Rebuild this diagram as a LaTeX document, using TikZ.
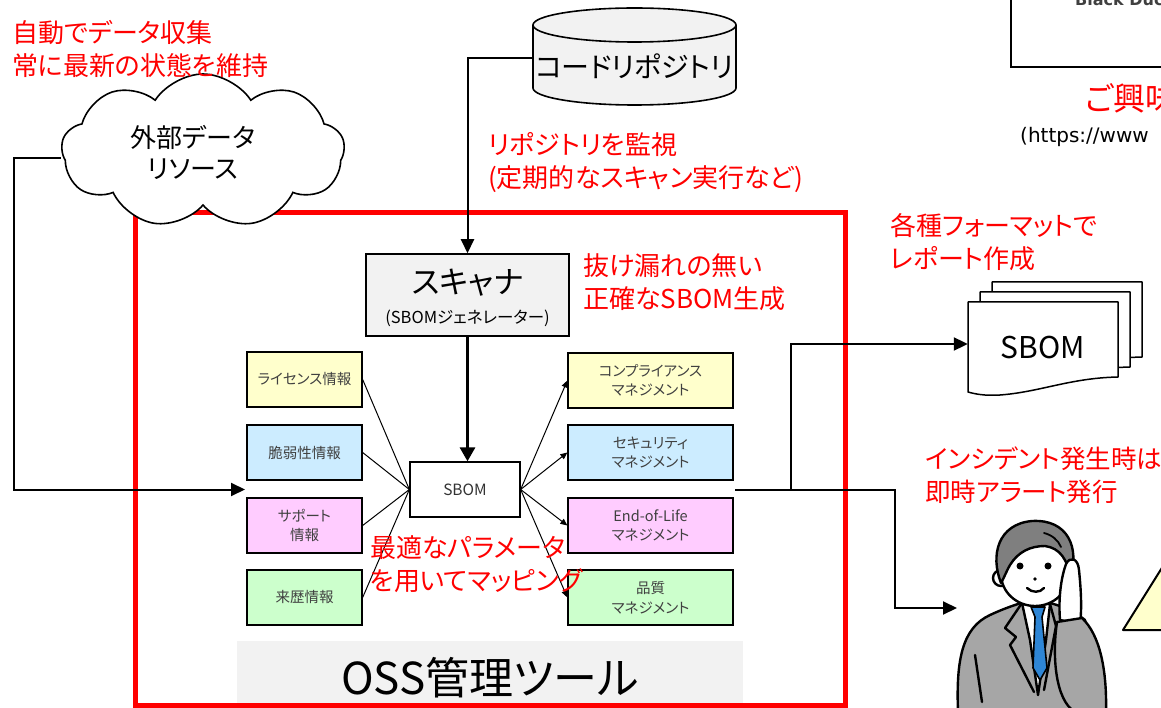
\documentclass[tikz,border=0pt]{standalone}
\usepackage{fontspec}
\setmainfont{Noto Sans CJK JP}[RawFeature=+palt]
\newfontfamily\urlfont{DejaVu Sans}
\usetikzlibrary{shapes.symbols,arrows.meta,calc}

\definecolor{boxyellow}{HTML}{FFFFCC}
\definecolor{boxblue}{HTML}{CCECFF}
\definecolor{boxpink}{HTML}{FFCCFF}
\definecolor{boxgreen}{HTML}{CCFFCC}
\definecolor{panelgray}{HTML}{F2F2F2}
\definecolor{suitgray}{HTML}{A6A6A6}
\definecolor{hairgray}{HTML}{7F7F7F}
\definecolor{tieblue}{HTML}{2E86D6}
\definecolor{alertred}{HTML}{FF0000}

\newcommand\jfs[2]{\fontsize{#1}{#2}\selectfont}

\begin{document}
\begin{tikzpicture}[x=1pt,y=-1pt,
  note/.style={text=alertred, font=\jfs{26}{33}, align=left, inner sep=0pt, anchor=north west},
  infobox/.style={draw=black, line width=1.3pt, minimum width=115pt, minimum height=55pt,
    inner sep=0pt, align=center, text=black!75, font=\jfs{14.5}{19.5}},
  mgmtbox/.style={infobox, minimum width=165pt},
  feed/.style={line width=1pt},
  fanout/.style={line width=1pt, -{Triangle[length=7pt,width=6pt]}},
  flow/.style={line width=2pt, -{Triangle[length=14pt,width=13pt]}},
  docsheet/.style={draw=black, line width=1.5pt, fill=white, line join=round},
]
\useasboundingbox (0,0) rectangle (1161,708);
\clip (0,0) rectangle (1161,708);

% ---------- product box, top right ----------
\draw[line width=2pt, fill=white] (1011,-20) |- (1180,67);
\node[anchor=base west, inner sep=0pt, text=black!75, font=\urlfont\bfseries\fontsize{16}{18}\selectfont] (brand) at (1075,6) {Black Duck};
\node[anchor=north west, inner sep=0pt, text=alertred, font=\jfs{32}{36}] (invite) at (1085,83) {ご興味};
\node[anchor=base west, inner sep=0pt, font=\urlfont\fontsize{20}{24}\selectfont] (url) at (1020,143) {(https://www};

% ---------- tool frame ----------
\node[fill=panelgray, minimum width=506pt, minimum height=66pt, inner sep=0pt] (tool) at (490,674) {};
\node[font=\jfs{44}{50}, inner sep=0pt] (toolname) at (490,678) {OSS管理ツール};
\draw[alertred, line width=5pt] (135.5,212.5) rectangle (845.5,705);

% ---------- external data cloud ----------
\node[cloud, cloud puffs=9, cloud puff arc=115, draw=black, line width=1.6pt, fill=white,
      minimum width=283pt, minimum height=154pt, inner sep=0pt] (ext) at (203,151) {};
\node[align=center, font=\jfs{26}{31}, inner sep=0pt] (exttext) at (193,152) {外部データ\\リソース};

% ---------- code repository cylinder ----------
\filldraw[fill=panelgray, draw=black, line width=1.6pt]
  (533,25) -- (533,88) arc[start angle=180, end angle=0, x radius=101.5, y radius=17]
  -- (736,25) arc[start angle=0, end angle=-180, x radius=101.5, y radius=17] -- cycle;
\draw[line width=1.6pt] (533,25) arc[start angle=180, end angle=0, x radius=101.5, y radius=17];
\node[minimum width=203pt, minimum height=60pt, inner sep=0pt, font=\jfs{28}{32}] (repo) at (634.5,66) {コードリポジトリ};

% ---------- scanner ----------
\node[draw=black, line width=1.5pt, fill=panelgray, minimum width=203pt, minimum height=82pt, inner sep=0pt] (scanner) at (467.5,295) {};
\node[font=\jfs{31}{36}, inner sep=0pt] (scantitle) at (467.5,283) {スキャナ};
\node[font=\jfs{16.5}{20}, inner sep=0pt] (scansub) at (467.5,318) {(SBOMジェネレーター)};

% ---------- SBOM and its inputs / outputs ----------
\node[draw=black, line width=1.3pt, fill=white, minimum width=110pt, minimum height=55pt, inner sep=0pt,
      font=\jfs{15.5}{19}, text=black!80] (sbom) at (465,489.5) {SBOM};

\node[infobox, fill=boxyellow] (lic)  at (304.5,379.5) {ライセンス情報};
\node[infobox, fill=boxblue]   (vul)  at (304.5,452.5) {脆弱性情報};
\node[infobox, fill=boxpink]   (sup)  at (304.5,525.5) {サポート\\情報};
\node[infobox, fill=boxgreen]  (prov) at (304.5,597.5) {来歴情報};

\node[mgmtbox, fill=boxyellow] (comp) at (650.5,380.5) {コンプライアンス\\マネジメント};
\node[mgmtbox, fill=boxblue]   (sec)  at (650.5,452.5) {セキュリティ\\マネジメント};
\node[mgmtbox, fill=boxpink]   (eol)  at (650.5,525.5) {End-of-Life\\マネジメント};
\node[mgmtbox, fill=boxgreen]  (qual) at (650.5,597.5) {品質\\マネジメント};

\foreach \src in {lic,vul,sup,prov} \draw[feed] (\src.east) -- (sbom.west);
\foreach \dst in {comp,sec,eol,qual} \draw[fanout] (sbom.east) -- (\dst.west);

\draw[line width=3pt, -{Triangle[length=14pt,width=15pt]}] (scanner.south) -- (scanner.south |- sbom.north);

% ---------- SBOM report documents ----------
\foreach \s in {24,12,0}{
  \filldraw[docsheet, shift={(\s,-\s*10/12)}]
    (968,302) -- (1118,302) -- (1118,377)
    .. controls (1070,378) and (1040,392) .. (1000,395)
    .. controls (985,396) and (975,394) .. (968,392) -- cycle;
}
\node[minimum width=150pt, minimum height=92pt, inner sep=0pt, font=\jfs{30}{34}] (doc) at (1043,348) {SBOM};

% ---------- alert recipient ----------
\filldraw[fill=boxyellow, draw=black, line width=2pt, line join=round] (1123,630) -- (1195,515) -- (1267,630) -- cycle;
\begin{scope}[line width=2.4pt, line join=round, line cap=round]
  % torso
  \filldraw[fill=suitgray] (958,712) .. controls (956,660) and (962,628) .. (990,615)
    .. controls (1005,608) and (1015,605) .. (1024,602) -- (1050,603)
    .. controls (1065,607) and (1075,612) .. (1085,620) -- (1095,712) -- cycle;
  % shirt
  \filldraw[fill=white] (1022,603) -- (1050,604) -- (1046,640) -- (1038,695) -- (1030,640) -- cycle;
  % tie
  \filldraw[fill=tieblue, line width=1.6pt] (1031,607) -- (1045,607) -- (1042,617) -- (1047,668)
    -- (1040,680) -- (1033,668) -- (1035,617) -- cycle;
  % lapels and folds
  \draw (1022,603) -- (1005,628) -- (1016,637) -- (1010,645) -- (1034,692);
  \draw (1050,604) -- (1056,626) -- (1044,690);
  \draw (975,655) -- (982,702);
  % head
  \filldraw[fill=white] (1001,578) circle[radius=8];
  \filldraw[fill=white] (1035,574) ellipse[x radius=34, y radius=32];
  \filldraw[fill=hairgray] (1001,583) .. controls (990,555) and (998,524) .. (1032,521)
    .. controls (1068,519) and (1080,548) .. (1070,578)
    .. controls (1068,560) and (1060,548) .. (1045,546)
    .. controls (1030,546) and (1018,552) .. (1010,565)
    .. controls (1006,572) and (1004,578) .. (1001,583) -- cycle;
  \draw[line width=1.8pt] (1044,533) .. controls (1052,535) and (1058,540) .. (1061,547);
  \fill (1020,566) circle[radius=3.5];
  \fill (1048,566) circle[radius=3.5];
  \fill (1035,579) circle[radius=1.8];
  \draw (1027,588) .. controls (1032,593) and (1040,593) .. (1044,588);
  % hand on the cheek, then the sleeve
  \filldraw[fill=white] (1060,620) .. controls (1058,595) and (1062,575) .. (1066,564)
    .. controls (1070,556) and (1078,558) .. (1079,570)
    .. controls (1081,590) and (1082,608) .. (1080,624) -- cycle;
  \filldraw[fill=suitgray] (1057,622) .. controls (1052,655) and (1055,700) .. (1075,712)
    -- (1106,712) .. controls (1107,670) and (1100,635) .. (1082,618) -- cycle;
\end{scope}
\coordinate (alert) at (957,608);

% ---------- connectors ----------
\draw[flow] ([yshift=-7pt]ext.west) -- ++(-47,0) |- (245,489.5) coordinate (inlet);
\draw[flow] (repo.west |- 0,58) -| (scanner.north);
\coordinate (out) at (735,489.5);
\coordinate (split) at (791,489.5);
\draw[flow] (out) -- ++(160,0) |- (alert);
\draw[flow] (split) |- ([yshift=4pt]doc.west);

% ---------- annotations ----------
\node[note] (n1) at (12,20)  {自動でデータ収集\\常に最新の状態を維持};
\node[note] (n2) at (488,132) {リポジトリを監視\\(定期的なスキャン実行など)};
\node[note] (n3) at (583,253) {抜け漏れの無い\\正確なSBOM生成};
\node[note] (n4) at (890,213) {各種フォーマットで\\レポート作成};
\node[note, font=\jfs{25.5}{33}] (n5) at (925,447) {インシデント発生時は\\即時アラート発行};
\node[note] (n6) at (370,535) {最適なパラメータ\\を用いてマッピング};
\end{tikzpicture}
\end{document}
